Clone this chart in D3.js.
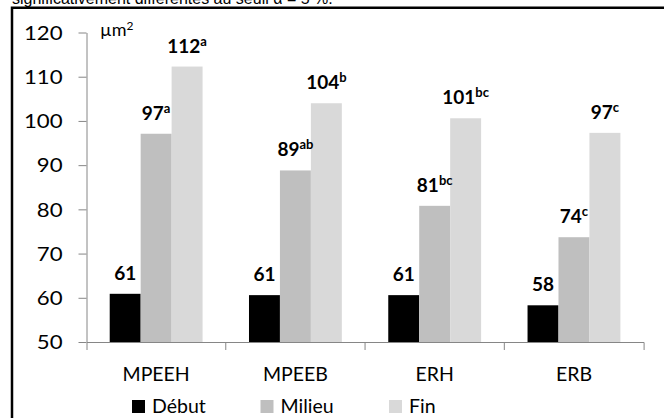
<!DOCTYPE html>
<html lang="fr">
<head>
  <meta charset="UTF-8">
  <title>Surface par période</title>
  <script src="https://d3js.org/d3.v7.min.js"></script>
  <style>
    html, body {
      margin: 0;
      padding: 0;
      background: #fff;
      overflow: hidden;
    }

    text {
      font-family: Lato, "Open Sans", sans-serif;
      fill: #000;
    }

    .caption {
      font-family: "Liberation Sans", Arial, sans-serif;
      font-size: 16px;
    }

    .axis path,
    .axis line {
      stroke: #868686;
      stroke-width: 1px;
    }

    .axis text {
      font-size: 18.5px;
    }

    .value {
      font-size: 19px;
      font-weight: bold;
    }

    .value .sup {
      font-size: 13px;
    }
  </style>
</head>
<body>
  <svg width="664" height="418"></svg>

  <script>
    // Groups and periods
    const categories = ["MPEEH", "MPEEB", "ERH", "ERB"];
    const series = ["Début", "Milieu", "Fin"];

    // Values (µm²)
    const debut = [60.9, 60.6, 60.6, 58.3];
    const milieu = [97.1, 88.8, 80.8, 73.7];
    const fin = [112.3, 104.0, 100.6, 97.3];

    // Printed labels and their letter groups
    const labelsDebut = ["61", "61", "61", "58"];
    const labelsMilieu = ["97", "89", "81", "74"];
    const labelsFin = ["112", "104", "101", "97"];
    const lettersMilieu = ["a", "ab", "bc", "c"];
    const lettersFin = ["a", "b", "bc", "c"];
    const lettersDebut = ["", "", "", ""];

    const yTicks = [50, 60, 70, 80, 90, 100, 110, 120];

    const colors = ["#000000", "#bfbfbf", "#d9d9d9"];

    const valuesBySeries = [debut, milieu, fin];
    const labelsBySeries = [labelsDebut, labelsMilieu, labelsFin];
    const lettersBySeries = [lettersDebut, lettersMilieu, lettersFin];

    const svg = d3.select("svg");

    // caption line cut at the top of the picture
    svg.append("text")
      .attr("class", "caption")
      .attr("x", 12)
      .attr("y", 4)
      .text("significativement différentes au seuil α = 5 %.");

    // frame (right and bottom sides fall outside the picture)
    svg.append("rect")
      .attr("x", 12)
      .attr("y", 7.75)
      .attr("width", 700)
      .attr("height", 500)
      .attr("fill", "none")
      .attr("stroke", "#000")
      .attr("stroke-width", 2.5);

    const x = d3.scaleBand()
      .domain(categories)
      .range([86.5, 643.6]);

    const xInner = d3.scaleBand()
      .domain(series)
      .range([0, x.bandwidth()])
      .paddingOuter(0.75);

    const y = d3.scaleLinear()
      .domain([50, 120])
      .range([342, 32.5]);

    // flatten for drawing
    const bars = [];
    categories.forEach((c, i) => {
      series.forEach((s, j) => {
        bars.push({
          cat: c,
          ser: s,
          idx: j,
          value: valuesBySeries[j][i],
          label: labelsBySeries[j][i],
          letters: lettersBySeries[j][i]
        });
      });
    });

    svg.append("g")
      .selectAll("rect")
      .data(bars)
      .enter().append("rect")
      .attr("x", d => x(d.cat) + xInner(d.ser))
      .attr("y", d => y(d.value))
      .attr("width", xInner.bandwidth())
      .attr("height", d => y(50) - y(d.value))
      .attr("fill", d => colors[d.idx]);

    // y axis
    const yAxis = svg.append("g")
      .attr("class", "axis")
      .attr("transform", "translate(86.5,0)")
      .call(d3.axisLeft(y).tickValues(yTicks).tickSize(8).tickPadding(16).tickSizeOuter(0));

    // the labels in the picture are drawn a bit wide
    yAxis.selectAll("text")
      .attr("x", -24 / 1.2)
      .attr("dy", "0.36em")
      .attr("transform", "scale(1.2,1)");

    // x axis with ticks between the groups
    const xAxis = svg.append("g")
      .attr("class", "axis")
      .attr("transform", "translate(0,342)")
      .call(d3.axisBottom(x).tickSize(0).tickPadding(0).tickSizeOuter(8));

    xAxis.selectAll(".tick text")
      .attr("y", 38.5)
      .attr("dy", null)
      .style("font-size", "19.5px");

    xAxis.selectAll(".bound")
      .data(categories.slice(1))
      .enter().append("line")
      .attr("x1", d => x(d))
      .attr("x2", d => x(d))
      .attr("y1", 0)
      .attr("y2", 8);

    // value labels with the superscript letters
    const vl = svg.append("g")
      .selectAll("text")
      .data(bars)
      .enter().append("text")
      .attr("class", "value")
      .attr("text-anchor", "middle")
      .attr("x", d => x(d.cat) + xInner(d.ser) + xInner.bandwidth() / 2)
      .attr("y", d => y(d.value) - 14);

    vl.append("tspan").text(d => d.label);
    vl.append("tspan")
      .attr("class", "sup")
      .attr("dy", -7)
      .text(d => d.letters);

    // unit
    const unit = svg.append("text")
      .attr("x", 100)
      .attr("y", 36)
      .style("font-size", "18px");
    unit.append("tspan").text("µm");
    unit.append("tspan").attr("dy", -6).style("font-size", "12px").text("2");

    // legend
    const legend = svg.append("g")
      .selectAll("g")
      .data(series)
      .enter().append("g")
      .attr("transform", (d, i) => `translate(${132 + i * 128.5},400)`);

    legend.append("rect")
      .attr("width", 13)
      .attr("height", 13)
      .attr("fill", (d, i) => colors[i]);

    legend.append("text")
      .attr("x", 20)
      .attr("y", 13)
      .style("font-size", "19.5px")
      .text(d => d);
  </script>
</body>
</html>
